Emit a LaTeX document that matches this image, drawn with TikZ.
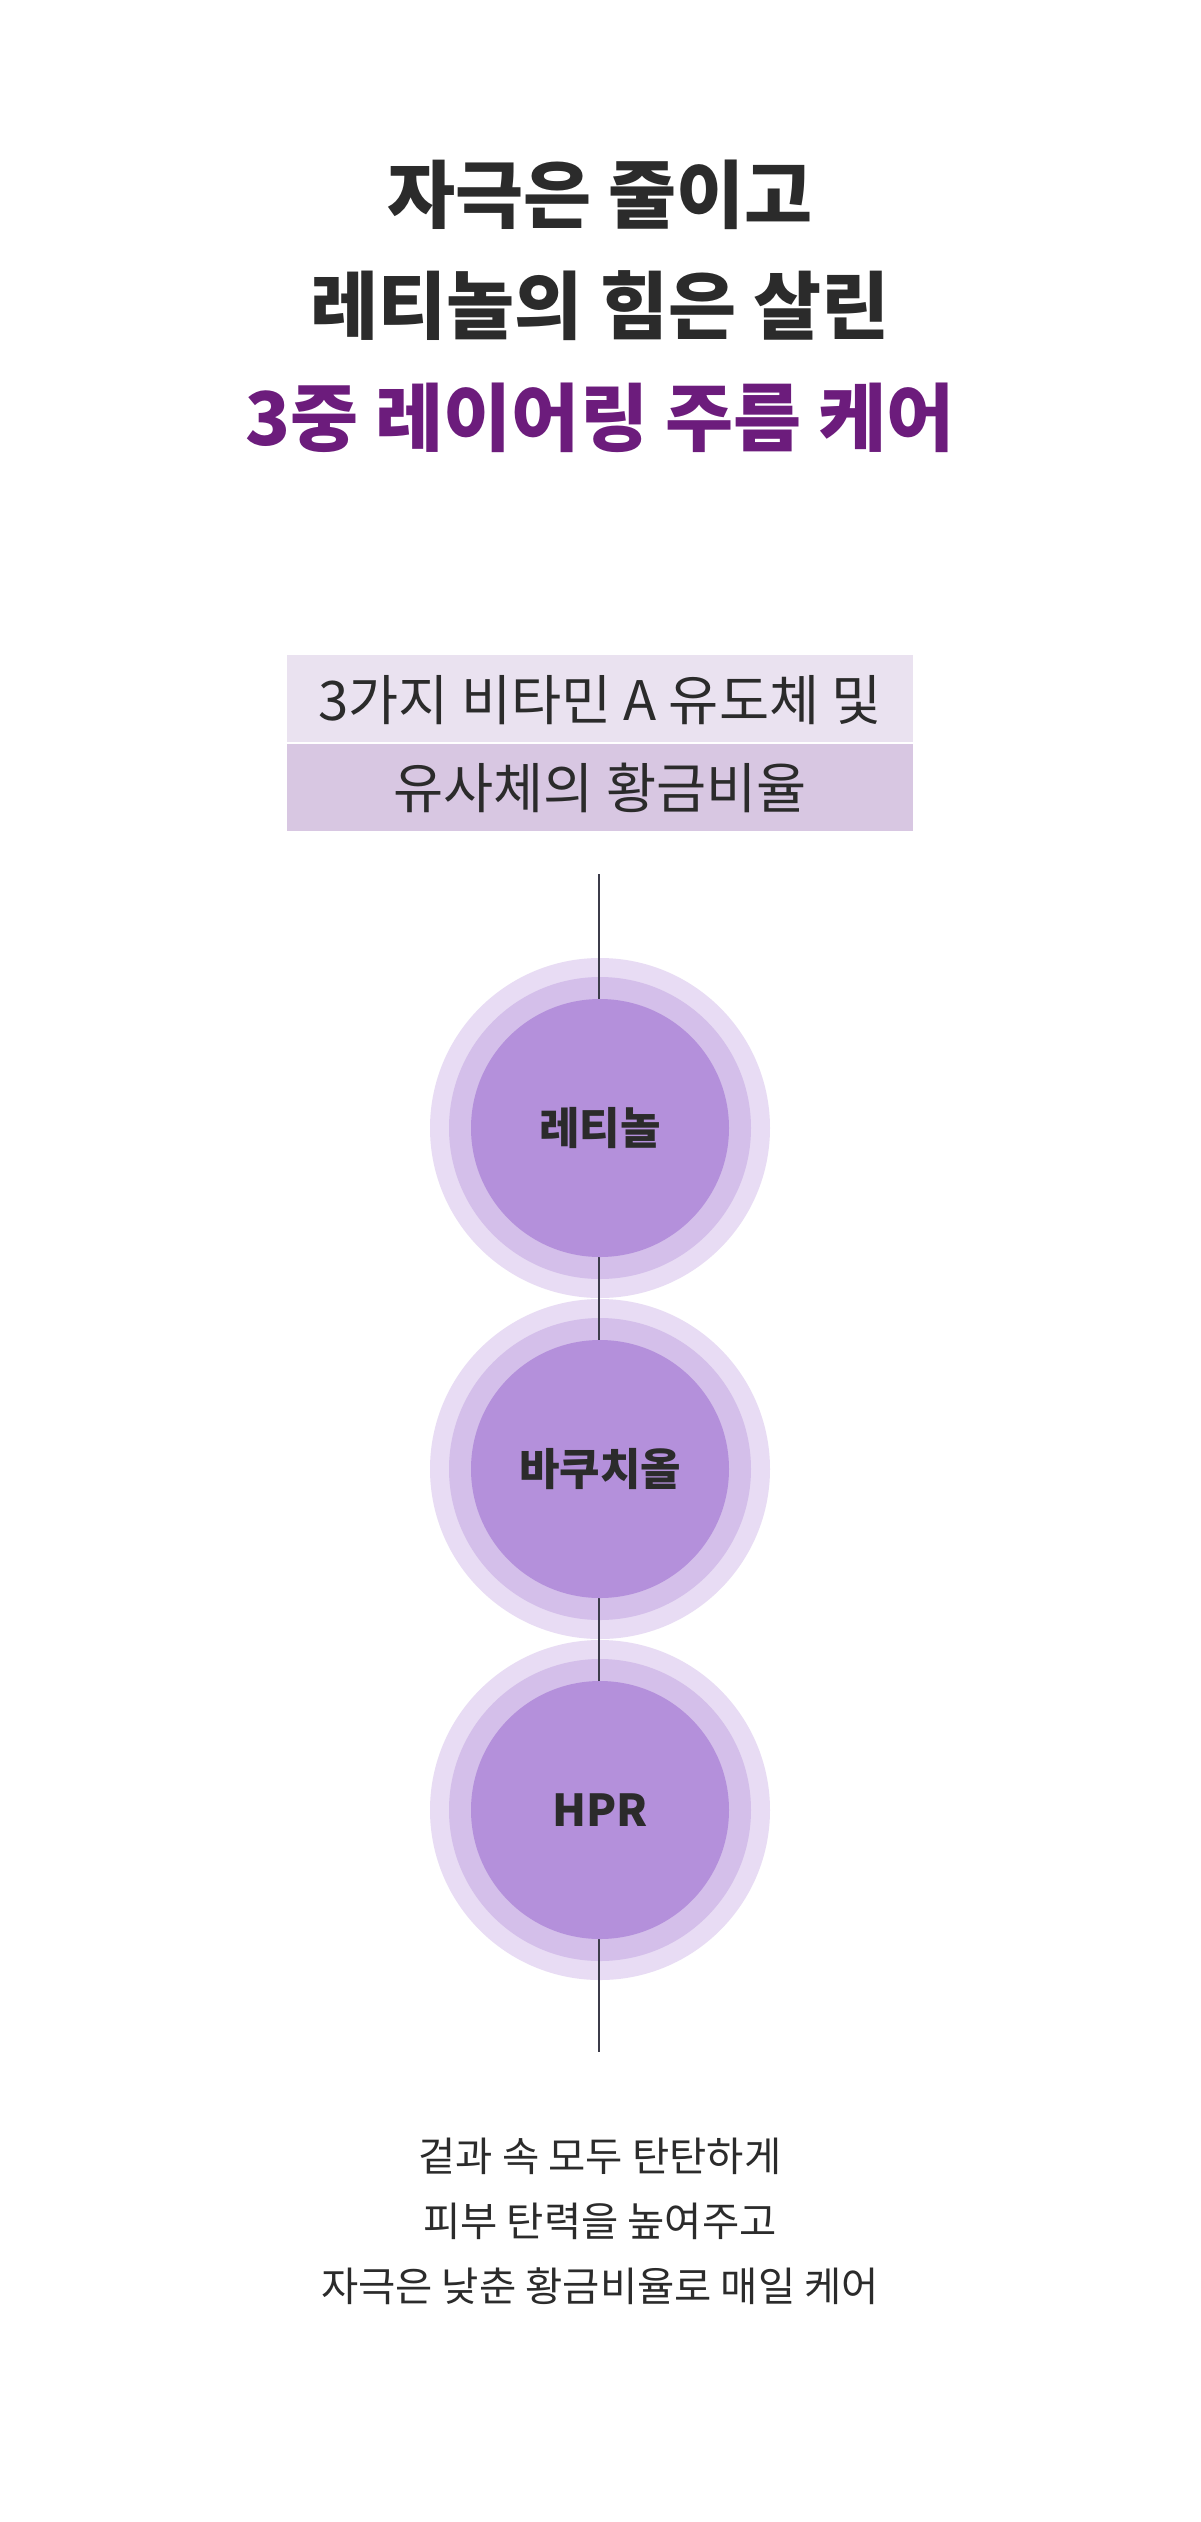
\documentclass[tikz,border=0pt]{standalone}
\usepackage{fontspec}
\setmainfont{Noto Sans CJK KR}
\definecolor{txtdark}{HTML}{2B2B2B}
\definecolor{titlepurple}{HTML}{6C1C7C}
\definecolor{boxlight}{HTML}{EAE2F0}
\definecolor{boxdark}{HTML}{D8C7E2}
\definecolor{ringouter}{HTML}{E8DCF4}
\definecolor{ringmid}{HTML}{D4BFEA}
\definecolor{ringinner}{HTML}{B490DB}
\definecolor{linegray}{HTML}{3C3C4A}
\tikzset{
  titletext/.style={inner sep=0pt, text=txtdark, font=\fontsize{74}{80}\selectfont\bfseries},
  boxtext/.style={inner sep=0pt, text=txtdark, font=\fontsize{54.5}{60}\selectfont},
  labeltext/.style={inner sep=0pt, text=txtdark, font=\fontsize{44}{50}\selectfont\bfseries},
  bodytext/.style={inner sep=0pt, text=txtdark, font=\fontsize{40.5}{46}\selectfont},
  outerring/.style={circle, fill=ringouter, minimum size=340pt, inner sep=0pt},
  midring/.style={circle, fill=ringmid, minimum size=302pt, inner sep=0pt},
  innerdisc/.style={circle, fill=ringinner, minimum size=258pt, inner sep=0pt},
  connector/.style={draw=linegray, line width=1.5pt}
}
\begin{document}
\begin{tikzpicture}[x=1pt,y=-1pt]
\useasboundingbox[fill=white] (0,0) rectangle (1200,2522);
% title
\node[titletext] (t1) at (600,195) {자극은 줄이고};
\node[titletext] (t2) at (600,306) {레티놀의 힘은 살린};
\node[titletext, text=titlepurple] (t3) at (600,418) {3중 레이어링 주름 케어};
% boxes
\fill[boxlight] (287,655) rectangle (913,742);
\fill[boxdark] (287,744) rectangle (913,831);
\node[boxtext] (b1) at (600,700) {3가지 비타민 A 유도체 및};
\node[boxtext] (b2) at (600,788) {유사체의 황금비율};
% rings
\node[outerring] (o1) at (600,1128) {};
\node[outerring] (o2) at (600,1469) {};
\node[outerring] (o3) at (600,1810) {};
\node[midring] (m1) at (600,1128) {};
\node[midring] (m2) at (600,1469) {};
\node[midring] (m3) at (600,1810) {};
\coordinate (ltop) at (599,874);
\coordinate (lbot) at (599,2052);
\draw[connector] (ltop) -- (lbot);
\node[innerdisc] (c1) at (600,1128) {};
\node[innerdisc] (c2) at (600,1469) {};
\node[innerdisc] (c3) at (600,1810) {};
\node[labeltext] (l1) at (c1) {레티놀};
\node[labeltext] (l2) at (c2) {바쿠치올};
\node[labeltext] (l3) at (c3) {HPR};
% bottom text
\node[bodytext] (d1) at (600,2156) {겉과 속 모두 탄탄하게};
\node[bodytext] (d2) at (600,2221) {피부 탄력을 높여주고};
\node[bodytext] (d3) at (600,2286) {자극은 낮춘 황금비율로 매일 케어};
\end{tikzpicture}
\end{document}
